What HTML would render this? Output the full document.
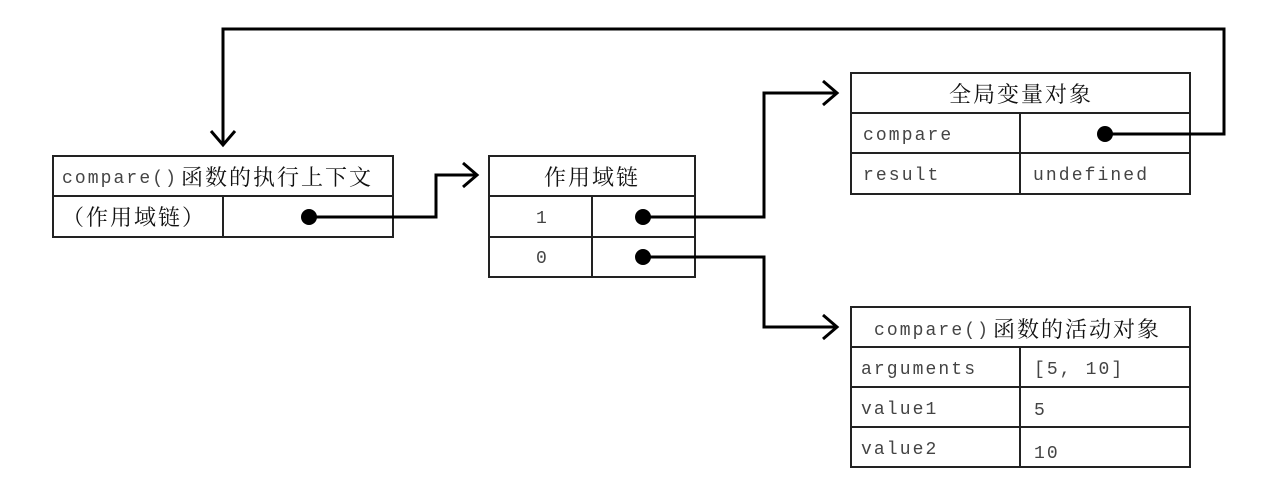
<!DOCTYPE html>
<html><head><meta charset="utf-8"><style>
html,body{margin:0;padding:0;background:#fff;width:1287px;height:489px;overflow:hidden}
.m{font-family:"Liberation Mono",monospace;font-size:18px;fill:#444;letter-spacing:2.1px}
.c{font-family:"Noto Serif CJK SC","Liberation Serif",serif;font-size:22px;fill:#111;letter-spacing:2px}
</style></head><body>
<svg width="1287" height="489" viewBox="0 0 1287 489" xmlns="http://www.w3.org/2000/svg">
<g fill="none" stroke="#222" stroke-width="2">
<rect x="53" y="156" width="340" height="81"/>
<line x1="53" y1="196" x2="393" y2="196"/>
<line x1="223" y1="196" x2="223" y2="237"/>
<rect x="489" y="156" width="206" height="121"/>
<line x1="489" y1="196" x2="695" y2="196"/>
<line x1="489" y1="237" x2="695" y2="237"/>
<line x1="592" y1="196" x2="592" y2="277"/>
<rect x="851" y="73" width="339" height="121"/>
<line x1="851" y1="113" x2="1190" y2="113"/>
<line x1="851" y1="153" x2="1190" y2="153"/>
<line x1="1020" y1="113" x2="1020" y2="194"/>
<rect x="851" y="307" width="339" height="160"/>
<line x1="851" y1="347" x2="1190" y2="347"/>
<line x1="851" y1="387" x2="1190" y2="387"/>
<line x1="851" y1="427" x2="1190" y2="427"/>
<line x1="1020" y1="347" x2="1020" y2="467"/>
</g>
<g fill="none" stroke="#000" stroke-width="3">
<polyline points="309,217 436,217 436,175 476,175"/>
<polyline points="463,163 477,175 463,187"/>
<polyline points="643,217 764,217 764,93 836,93"/>
<polyline points="823,81 837,93 823,105"/>
<polyline points="643,257 764,257 764,327 836,327"/>
<polyline points="823,315 837,327 823,339"/>
<polyline points="1105,134 1224,134 1224,29 223,29 223,144"/>
<polyline points="211,131 223,145 235,131"/>
</g>
<g fill="#000">
<circle cx="309" cy="217" r="8"/>
<circle cx="643" cy="217" r="8"/>
<circle cx="643" cy="257" r="8"/>
<circle cx="1105" cy="134" r="8"/>
</g>
<text x="62" y="183" class="m" textLength="116">compare()</text><text x="181" y="185" class="c">函数的执行上下文</text>
<text x="62" y="225" class="c">（作用域链）</text>
<text x="592" y="185" class="c" text-anchor="middle">作用域链</text>
<text x="536" y="223" class="m">1</text>
<text x="536" y="263" class="m">0</text>
<text x="1021" y="102" class="c" text-anchor="middle">全局变量对象</text>
<text x="863" y="140" class="m">compare</text>
<text x="863" y="180" class="m">result</text>
<text x="1033" y="180" class="m">undefined</text>
<text x="874" y="335" class="m" textLength="116">compare()</text><text x="993" y="337" class="c">函数的活动对象</text>
<text x="861" y="374" class="m">arguments</text>
<text x="1034" y="374" class="m">[5, 10]</text>
<text x="861" y="414" class="m">value1</text>
<text x="1034" y="415" class="m">5</text>
<text x="861" y="454" class="m">value2</text>
<text x="1034" y="458" class="m">10</text>
</svg>
</body></html>
